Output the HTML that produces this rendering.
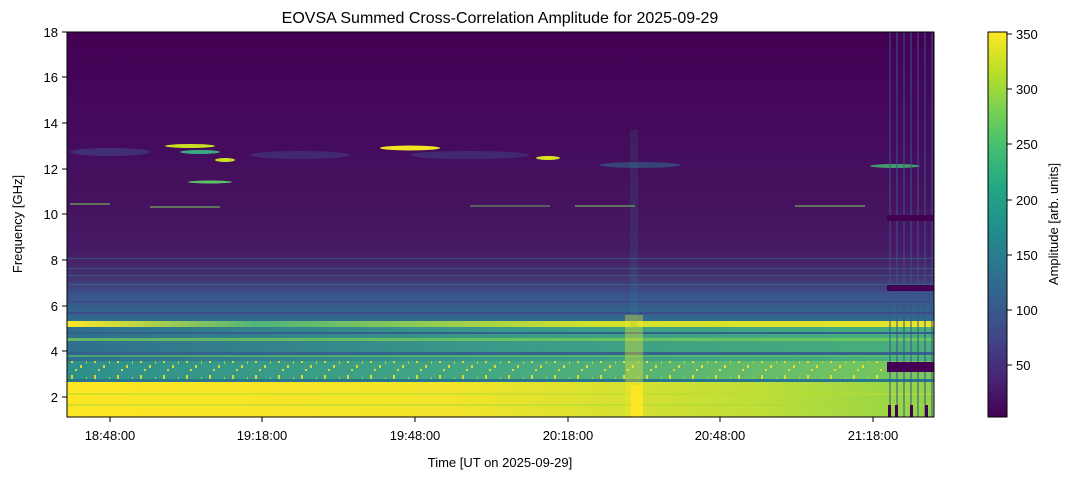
<!DOCTYPE html>
<html><head><meta charset="utf-8"><style>
body{margin:0;background:#fff;width:1073px;height:479px;overflow:hidden;font-family:"Liberation Sans","DejaVu Sans",sans-serif}
</style></head><body>
<svg width="1073" height="479" xmlns="http://www.w3.org/2000/svg" font-family="Liberation Sans, DejaVu Sans, sans-serif">
<defs>
<linearGradient id="vir" x1="0" y1="1" x2="0" y2="0">
<stop offset="0" stop-color="#440154"/><stop offset="0.1" stop-color="#482475"/><stop offset="0.2" stop-color="#414487"/><stop offset="0.3" stop-color="#355f8d"/><stop offset="0.4" stop-color="#2a788e"/><stop offset="0.5" stop-color="#21918c"/><stop offset="0.6" stop-color="#22a884"/><stop offset="0.7" stop-color="#44bf70"/><stop offset="0.8" stop-color="#7ad151"/><stop offset="0.9" stop-color="#bddf26"/><stop offset="1" stop-color="#fde725"/>
</linearGradient>
<linearGradient id="top" x1="0" y1="0" x2="0" y2="1">
<stop offset="0" stop-color="#440154"/><stop offset="0.45" stop-color="#450a5c"/><stop offset="0.8" stop-color="#461360"/><stop offset="1" stop-color="#471a66"/>
</linearGradient>
<linearGradient id="mid" x1="0" y1="0" x2="0" y2="1">
<stop offset="0" stop-color="#471a66"/><stop offset="0.6" stop-color="#46306f"/><stop offset="1" stop-color="#3d4b87"/>
</linearGradient>
<linearGradient id="blue" x1="0" y1="0" x2="0" y2="1">
<stop offset="0" stop-color="#3b518a"/><stop offset="1" stop-color="#2f6b8e"/>
</linearGradient>
<linearGradient id="teal" x1="0" x2="1">
<stop offset="0" stop-color="#2f6c8e"/><stop offset="0.5" stop-color="#2a7c8e"/><stop offset="1" stop-color="#25898d"/>
</linearGradient>
<linearGradient id="teal2" x1="0" x2="1">
<stop offset="0" stop-color="#2e6f8e"/><stop offset="0.5" stop-color="#3a9a88"/><stop offset="1" stop-color="#48b07a"/>
</linearGradient>
<linearGradient id="low" x1="0" x2="1">
<stop offset="0" stop-color="#fde725"/><stop offset="0.45" stop-color="#f1e42a"/><stop offset="0.8" stop-color="#bede38"/><stop offset="1" stop-color="#8ed44a"/>
</linearGradient>
<linearGradient id="dots" x1="0" x2="1">
<stop offset="0" stop-color="#2e8f8b"/><stop offset="0.5" stop-color="#44a882"/><stop offset="1" stop-color="#7cc95a"/>
</linearGradient>
<linearGradient id="y5" x1="0" x2="1">
<stop offset="0" stop-color="#fde725"/><stop offset="0.22" stop-color="#4fb57a"/><stop offset="0.6" stop-color="#d0e12c"/><stop offset="1" stop-color="#e8e42a"/>
</linearGradient>
<pattern id="spk" width="23" height="17" patternUnits="userSpaceOnUse">
<rect x="2" y="1" width="2" height="5" fill="#fde725"/><rect x="11" y="8" width="2" height="3" fill="#fde725"/><rect x="17" y="3" width="1" height="4" fill="#bddf26"/><rect x="6" y="12" width="2" height="2" fill="#fde725"/>
</pattern>
<pattern id="vl" width="7" height="10" patternUnits="userSpaceOnUse">
<rect x="0" y="0" width="2" height="10" fill="#3b528b" opacity="0.5"/>
</pattern>
</defs>
<text x="500" y="23" text-anchor="middle" font-size="16" fill="#000">EOVSA Summed Cross-Correlation Amplitude for 2025-09-29</text>
<g>
<rect x="67" y="32" width="867" height="218" fill="url(#top)"/>
<rect x="67" y="250" width="867" height="42" fill="url(#mid)"/>
<g fill="#2a788e" opacity="0.55"><rect x="67" y="258" width="867" height="1"/><rect x="67" y="268" width="867" height="1"/><rect x="67" y="275" width="867" height="1"/><rect x="67" y="284" width="867" height="1"/></g>
<rect x="67" y="292" width="867" height="29" fill="url(#blue)"/>
<rect x="67" y="301" width="867" height="2" fill="#3e4a89"/>
<rect x="67" y="312" width="867" height="2" fill="#3e4a89"/>
<rect x="67" y="321" width="867" height="6" fill="url(#y5)"/>
<rect x="67" y="327" width="867" height="34" fill="url(#teal2)"/>
<rect x="67" y="332" width="867" height="2" fill="#33618d"/>
<rect x="67" y="338" width="867" height="3" fill="#7ad151" opacity="0.7"/>
<rect x="67" y="352" width="867" height="3" fill="#35638d"/>
<rect x="67" y="355" width="867" height="2" fill="#5ac464" opacity="0.6"/>
<rect x="67" y="361" width="867" height="18" fill="url(#dots)"/>
<rect x="67" y="361" width="818" height="18" fill="url(#spk)" opacity="0.8"/>
<rect x="67" y="379" width="867" height="3" fill="#2a768e"/>
<rect x="67" y="382" width="867" height="35" fill="url(#low)"/>
<rect x="67" y="393" width="867" height="2" fill="#b8de30" opacity="0.6"/>
<rect x="67" y="404" width="867" height="2" fill="#a8db35" opacity="0.5"/>
<ellipse cx="190" cy="146" rx="25" ry="2" fill="#c8e020"/>
<ellipse cx="200" cy="152" rx="20" ry="2" fill="#3ba985"/>
<ellipse cx="225" cy="160" rx="10" ry="2" fill="#cce01f"/>
<ellipse cx="210" cy="182" rx="22" ry="1.5" fill="#5ac464"/>
<ellipse cx="410" cy="148" rx="30" ry="2.5" fill="#f0e520"/>
<ellipse cx="548" cy="158" rx="12" ry="2" fill="#d8e220"/>
<ellipse cx="110" cy="152" rx="40" ry="4" fill="#3b528b" opacity="0.5"/>
<ellipse cx="300" cy="155" rx="50" ry="4" fill="#3b528b" opacity="0.4"/>
<ellipse cx="470" cy="155" rx="60" ry="4" fill="#3b528b" opacity="0.4"/>
<ellipse cx="640" cy="165" rx="40" ry="3" fill="#2a788e" opacity="0.5"/>
<ellipse cx="895" cy="166" rx="25" ry="2" fill="#44bf70" opacity="0.8"/>
<g fill="#7ad151">
<rect x="70" y="203" width="40" height="2" opacity="0.5"/><rect x="150" y="206" width="70" height="2" opacity="0.5"/>
<rect x="470" y="205" width="80" height="2" opacity="0.4"/><rect x="575" y="205" width="60" height="2" opacity="0.5"/>
<rect x="795" y="205" width="70" height="2" opacity="0.5"/>
</g>
<rect x="630" y="130" width="8" height="200" fill="#21918c" opacity="0.15"/>
<rect x="625" y="315" width="18" height="102" fill="#fde725" opacity="0.35"/>
<rect x="631" y="385" width="12" height="32" fill="#fde725"/>
<rect x="885" y="32" width="49" height="385" fill="url(#vl)"/>
<rect x="887" y="215" width="47" height="6" fill="#440154"/>
<rect x="887" y="285" width="47" height="6" fill="#440154"/>
<rect x="887" y="362" width="47" height="10" fill="#440154"/>
<g fill="#440154"><rect x="888" y="405" width="3" height="12"/><rect x="895" y="405" width="3" height="12"/><rect x="910" y="405" width="3" height="12"/><rect x="925" y="405" width="3" height="12"/></g>
</g>
<rect x="67" y="32" width="867" height="385" fill="none" stroke="#000" stroke-width="1"/>
<g stroke="#000" stroke-width="1">
<line x1="62" y1="397" x2="67" y2="397"/><line x1="62" y1="351" x2="67" y2="351"/><line x1="62" y1="306" x2="67" y2="306"/><line x1="62" y1="260" x2="67" y2="260"/><line x1="62" y1="214" x2="67" y2="214"/><line x1="62" y1="169" x2="67" y2="169"/><line x1="62" y1="123" x2="67" y2="123"/><line x1="62" y1="77" x2="67" y2="77"/><line x1="62" y1="32" x2="67" y2="32"/>
<line x1="110" y1="417" x2="110" y2="422"/><line x1="262" y1="417" x2="262" y2="422"/><line x1="415" y1="417" x2="415" y2="422"/><line x1="568" y1="417" x2="568" y2="422"/><line x1="720" y1="417" x2="720" y2="422"/><line x1="873" y1="417" x2="873" y2="422"/>
</g>
<g font-size="13" fill="#000" text-anchor="end">
<text x="58" y="402">2</text><text x="58" y="356">4</text><text x="58" y="311">6</text><text x="58" y="265">8</text><text x="58" y="219">10</text><text x="58" y="174">12</text><text x="58" y="128">14</text><text x="58" y="82">16</text><text x="58" y="37">18</text>
</g>
<g font-size="13" fill="#000" text-anchor="middle">
<text x="110" y="440">18:48:00</text><text x="262" y="440">19:18:00</text><text x="415" y="440">19:48:00</text><text x="568" y="440">20:18:00</text><text x="720" y="440">20:48:00</text><text x="873" y="440">21:18:00</text>
<text x="500" y="467">Time [UT on 2025-09-29]</text>
</g>
<text transform="translate(22,224) rotate(-90)" font-size="13" text-anchor="middle">Frequency [GHz]</text>
<rect x="988" y="32" width="19" height="385" fill="url(#vir)" stroke="#000" stroke-width="1"/>
<g stroke="#000"><line x1="1007" y1="365" x2="1012" y2="365"/><line x1="1007" y1="310" x2="1012" y2="310"/><line x1="1007" y1="255" x2="1012" y2="255"/><line x1="1007" y1="200" x2="1012" y2="200"/><line x1="1007" y1="144" x2="1012" y2="144"/><line x1="1007" y1="89" x2="1012" y2="89"/><line x1="1007" y1="34" x2="1012" y2="34"/></g>
<g font-size="13" fill="#000"><text x="1016" y="370">50</text><text x="1016" y="315">100</text><text x="1016" y="260">150</text><text x="1016" y="205">200</text><text x="1016" y="149">250</text><text x="1016" y="94">300</text><text x="1016" y="39">350</text></g>
<text transform="translate(1058,224) rotate(-90)" font-size="13" text-anchor="middle">Amplitude [arb. units]</text>
</svg>
</body></html>
